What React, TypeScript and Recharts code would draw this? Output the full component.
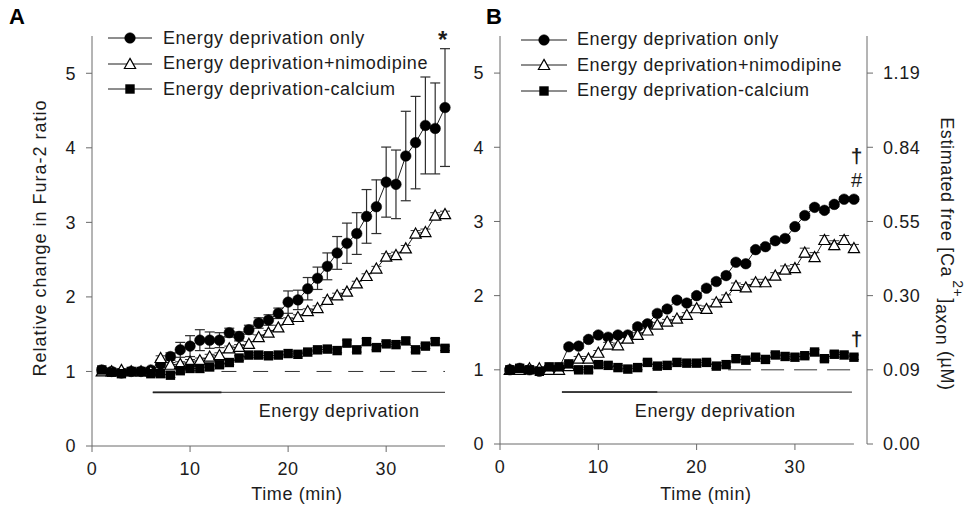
import React from 'react';
import {
  ComposedChart,
  Line,
  XAxis,
  YAxis,
  ErrorBar,
  ReferenceLine,
  ReferenceDot,
  Legend,
} from 'recharts';

const FONT = '"Liberation Sans", Arial, Helvetica, sans-serif';
const INK = '#1c1c1c';
const AXIS = '#6a6a6a';

// ---------- data ----------
const time = [
  1, 2, 3, 4, 5, 6, 7, 8, 9, 10, 11, 12, 13, 14, 15, 16, 17, 18,
  19, 20, 21, 22, 23, 24, 25, 26, 27, 28, 29, 30, 31, 32, 33, 34, 35, 36,
];

const seriesNames = [
  'Energy deprivation only',
  'Energy deprivation+nimodipine',
  'Energy deprivation-calcium',
];

// Panel A (relative change in Fura-2 ratio)
const aOnly = [
  1.02, 1.0, 0.98, 1.0, 1.0, 1.02, 1.1, 1.2, 1.29, 1.34, 1.42, 1.42, 1.42, 1.52, 1.47, 1.56, 1.65, 1.69,
  1.78, 1.93, 1.96, 2.11, 2.25, 2.41, 2.59, 2.72, 2.85, 3.08, 3.21, 3.54, 3.51, 3.89, 4.07, 4.3, 4.26, 4.54,
];
const aOnlyErr = [
  0.03, 0.03, 0.03, 0.03, 0.03, 0.03, 0.05, 0.05, 0.1, 0.14, 0.14, 0.11, 0.1, 0.06, 0.06, 0.06, 0.07, 0.07,
  0.07, 0.15, 0.13, 0.15, 0.15, 0.18, 0.22, 0.27, 0.28, 0.36, 0.36, 0.47, 0.46, 0.6, 0.62, 0.65, 0.61, 0.79,
];
const aNimo = [
  1.0, 1.0, 1.02, 1.0, 1.0, 1.0, 1.18, 1.09, 1.1, 1.13, 1.15, 1.2, 1.22, 1.31, 1.33, 1.37, 1.46, 1.52,
  1.59, 1.69, 1.73, 1.81, 1.85, 1.96, 2.02, 2.07, 2.18, 2.28, 2.38, 2.54, 2.56, 2.65, 2.85, 2.87, 3.09, 3.11,
];
const aNimoErr = [
  0.02, 0.02, 0.02, 0.02, 0.02, 0.02, 0.03, 0.03, 0.03, 0.03, 0.03, 0.03, 0.03, 0.03, 0.03, 0.03, 0.03, 0.03,
  0.03, 0.03, 0.03, 0.03, 0.03, 0.03, 0.03, 0.03, 0.03, 0.03, 0.03, 0.04, 0.04, 0.04, 0.04, 0.04, 0.04, 0.04,
];
const aCalc = [
  1.02, 0.99, 0.97, 1.0, 1.0, 0.97, 0.97, 0.95, 1.01, 1.04, 1.04, 1.06, 1.09, 1.12, 1.18, 1.22, 1.22, 1.21,
  1.22, 1.24, 1.23, 1.26, 1.29, 1.3, 1.28, 1.38, 1.29, 1.4, 1.32, 1.37, 1.36, 1.41, 1.29, 1.34, 1.4, 1.31,
];
const aCalcErr = [
  0.03, 0.03, 0.03, 0.03, 0.03, 0.03, 0.03, 0.03, 0.03, 0.03, 0.03, 0.03, 0.03, 0.03, 0.03, 0.03, 0.03, 0.03,
  0.03, 0.03, 0.03, 0.03, 0.03, 0.03, 0.03, 0.04, 0.03, 0.04, 0.03, 0.03, 0.03, 0.04, 0.03, 0.03, 0.04, 0.03,
];

// Panel B
const bOnly = [
  1.0, 1.02, 1.0, 0.98, 1.02, 1.02, 1.31, 1.32, 1.41, 1.47, 1.44, 1.47, 1.47, 1.58, 1.62, 1.76, 1.82, 1.94,
  1.9, 2.0, 2.1, 2.19, 2.27, 2.45, 2.43, 2.62, 2.66, 2.74, 2.77, 2.93, 3.08, 3.19, 3.15, 3.23, 3.3, 3.3,
];
const bOnlyErr = [
  0.02, 0.02, 0.02, 0.02, 0.02, 0.02, 0.03, 0.03, 0.03, 0.03, 0.03, 0.03, 0.03, 0.03, 0.03, 0.03, 0.03, 0.03,
  0.03, 0.03, 0.03, 0.03, 0.03, 0.03, 0.03, 0.03, 0.03, 0.03, 0.03, 0.03, 0.03, 0.03, 0.03, 0.03, 0.03, 0.03,
];
const bNimo = [
  1.0, 1.0, 1.02, 1.02, 1.0, 1.0, 1.05, 1.15, 1.15, 1.23, 1.34, 1.33, 1.42, 1.47, 1.53, 1.61, 1.65, 1.69,
  1.74, 1.83, 1.82, 1.91, 1.97, 2.13, 2.11, 2.18, 2.18, 2.27, 2.35, 2.37, 2.58, 2.52, 2.75, 2.68, 2.75, 2.64,
];
const bNimoErr = [
  0.02, 0.02, 0.02, 0.02, 0.02, 0.02, 0.03, 0.03, 0.03, 0.03, 0.03, 0.03, 0.03, 0.03, 0.03, 0.03, 0.03, 0.03,
  0.03, 0.04, 0.04, 0.04, 0.04, 0.04, 0.04, 0.04, 0.04, 0.04, 0.05, 0.05, 0.06, 0.06, 0.06, 0.06, 0.06, 0.05,
];
const bCalc = [
  1.0, 1.02, 1.0, 0.98, 1.04, 1.04, 1.08, 1.0, 1.0, 1.07, 1.06, 1.03, 1.01, 1.03, 1.1, 1.05, 1.06, 1.1,
  1.09, 1.09, 1.1, 1.05, 1.07, 1.15, 1.13, 1.17, 1.14, 1.2, 1.18, 1.17, 1.19, 1.24, 1.15, 1.21, 1.2, 1.17,
];
const bCalcErr = [
  0.02, 0.02, 0.02, 0.02, 0.02, 0.02, 0.03, 0.03, 0.03, 0.03, 0.03, 0.03, 0.03, 0.03, 0.03, 0.03, 0.03, 0.03,
  0.03, 0.03, 0.03, 0.03, 0.03, 0.03, 0.03, 0.03, 0.03, 0.03, 0.03, 0.03, 0.03, 0.03, 0.03, 0.03, 0.03, 0.03,
];

const leftTicks = [0, 1, 2, 3, 4, 5];
const xTicks = [0, 10, 20, 30];
const rightTickLabels = ['0.00', '0.09', '0.30', '0.55', '0.84', '1.19'];

// annotation positions in data units
const depA = { y: 0.72, start: 6.2, strongEnd: 13.2, end: 36, textX: 25.2, textY: 0.466 };
const depB = { y: 0.7, start: 6.3, strongEnd: 16, end: 35.8, textX: 21.9, textY: 0.445 };
const baseA = { y: 1, start: 13.2, end: 36 };
const baseB = { y: 1, start: 23.2, end: 36 };

const rowsA = time.map((t, i) => ({
  t,
  only: aOnly[i], onlyErr: aOnlyErr[i],
  nimo: aNimo[i], nimoErr: aNimoErr[i],
  calc: aCalc[i], calcErr: aCalcErr[i],
}));
const rowsB = time.map((t, i) => ({
  t,
  only: bOnly[i], onlyErr: bOnlyErr[i],
  nimo: bNimo[i], nimoErr: bNimoErr[i],
  calc: bCalc[i], calcErr: bCalcErr[i],
}));

// ---------- markers ----------
const Circle = (cx: number, cy: number, key?: string) => (
  <circle key={key} cx={cx} cy={cy} r={5.3} fill="#000" stroke="#000" strokeWidth={0.5} />
);
const Tri = (cx: number, cy: number, key?: string) => {
  const s = 5.6;
  return (
    <path
      key={key}
      d={`M${cx},${cy - s}L${cx + s},${cy + s * 0.8}L${cx - s},${cy + s * 0.8}Z`}
      fill="#fff"
      stroke="#000"
      strokeWidth={1.2}
    />
  );
};
const Sq = (cx: number, cy: number, key?: string) => (
  <rect key={key} x={cx - 4.7} y={cy - 4.7} width={9.4} height={9.4} fill="#000" />
);
const markers = [Circle, Tri, Sq];

const dotFn = (i: number, tag: string) => (p: any) => {
  if (p.cx == null || p.cy == null) return <g key={`${tag}-${p.index}`} />;
  return markers[i](p.cx, p.cy, `${tag}-${p.index}`);
};

const LegendBlock = ({ iconW, gap }: { iconW: number; gap: number }) => (
  <div style={{ fontFamily: FONT, fontSize: 18, letterSpacing: '0.6px', color: INK }}>
    {seriesNames.map((name, i) => (
      <div key={name} style={{ display: 'flex', alignItems: 'center', height: 25.4, whiteSpace: 'nowrap' }}>
        <svg width={iconW} height={16} style={{ marginRight: gap, overflow: 'visible' }}>
          <line x1={0} y1={8} x2={iconW} y2={8} stroke={INK} strokeWidth={1} />
          {markers[i](iconW / 2, 8)}
        </svg>
        <span>{name}</span>
      </div>
    ))}
  </div>
);

const tickStyle = { fill: INK, fontSize: 18 };

const annot = (value: string, size: number, weight: number | string = 'normal') => ({
  content: (p: any) => {
    const vb = p.viewBox || {};
    const cx = (vb.x || 0) + (vb.width || 0) / 2;
    const cy = (vb.y || 0) + (vb.height || 0) / 2;
    return (
      <text x={cx} y={cy} textAnchor="middle" dominantBaseline="central" fill={INK} fontSize={size} fontWeight={weight}>
        {value}
      </text>
    );
  },
});

const series = (tag: string, errColor: string, axisId: string | number) => [
  <Line key={`${tag}1`} yAxisId={axisId} type="linear" dataKey="only" stroke={INK} strokeWidth={1} dot={dotFn(0, `${tag}c`)} isAnimationActive={false} legendType="none">
    <ErrorBar dataKey="onlyErr" width={5} stroke={errColor} strokeWidth={1.2} direction="y" />
  </Line>,
  <Line key={`${tag}2`} yAxisId={axisId} type="linear" dataKey="nimo" stroke={INK} strokeWidth={1} dot={dotFn(1, `${tag}t`)} isAnimationActive={false} legendType="none">
    <ErrorBar dataKey="nimoErr" width={5} stroke="#333" strokeWidth={1} direction="y" />
  </Line>,
  <Line key={`${tag}3`} yAxisId={axisId} type="linear" dataKey="calc" stroke={INK} strokeWidth={1} dot={dotFn(2, `${tag}s`)} isAnimationActive={false} legendType="none">
    <ErrorBar dataKey="calcErr" width={5} stroke="#333" strokeWidth={1} direction="y" />
  </Line>,
];

export default function App() {
  return (
    <div
      style={{
        position: 'absolute',
        left: 0,
        top: 0,
        width: 968,
        height: 512,
        background: '#fff',
        fontFamily: FONT,
        letterSpacing: '0.6px',
        overflow: 'hidden',
      }}
    >
      {/* Panel A */}
      <div style={{ position: 'absolute', left: 0, top: 0 }}>
        <ComposedChart width={480} height={512} data={rowsA} margin={{ top: 36, right: 35, bottom: 36, left: 62 }}>
          <XAxis
            dataKey="t"
            type="number"
            domain={[0, 36]}
            ticks={xTicks}
            tickSize={6}
            tickMargin={10}
            stroke={AXIS}
            tick={tickStyle}
            height={30}
            label={{
              content: (p: any) => {
                const vb = p.viewBox;
                return (
                  <text x={vb.x + 205} y={vb.y + 54} textAnchor="middle" fill={INK} fontSize={18}>
                    Time (min)
                  </text>
                );
              },
            }}
          />
          <YAxis
            yAxisId={0}
            type="number"
            domain={[0, 5.5]}
            ticks={leftTicks}
            tickSize={6}
            tickMargin={10}
            stroke={AXIS}
            tick={tickStyle}
            width={30}
            label={{
              content: (p: any) => {
                const vb = p.viewBox;
                const x = vb.x - 16;
                const y = vb.y + vb.height / 2 - 3;
                return (
                  <text x={x} y={y} transform={`rotate(-90 ${x} ${y})`} textAnchor="middle" fill={INK} fontSize={18} style={{ letterSpacing: '1px' }}>
                    Relative change in Fura-2 ratio
                  </text>
                );
              },
            }}
          />
          <ReferenceLine segment={[{ x: depA.start, y: depA.y }, { x: depA.end, y: depA.y }]} stroke="#555" strokeWidth={1.2} />
          <ReferenceLine segment={[{ x: depA.start, y: depA.y }, { x: depA.strongEnd, y: depA.y }]} stroke="#222" strokeWidth={1.6} />
          <ReferenceLine segment={[{ x: baseA.start, y: baseA.y }, { x: baseA.end, y: baseA.y }]} stroke="#333" strokeWidth={1} strokeDasharray="15 16.7" />
          {series('a', '#2e2e2e', 0)}
          <ReferenceDot x={depA.textX} y={depA.textY} r={1} fill="none" stroke="none" label={annot('Energy deprivation', 18)} />
          <ReferenceDot x={35.8} y={5.45} r={1} fill="none" stroke="none" label={annot('*', 24, 'bold')} />
          <Legend
            layout="horizontal"
            verticalAlign="middle"
            align="center"
            wrapperStyle={{ left: 108, top: 25.6, width: 'auto', height: 'auto' }}
            content={() => <LegendBlock iconW={44} gap={11} />}
          />
        </ComposedChart>
      </div>

      {/* Panel B */}
      <div style={{ position: 'absolute', left: 470, top: 0 }}>
        <ComposedChart width={498} height={512} data={rowsB} margin={{ top: 36, right: 31, bottom: 38, left: 0 }}>
          <XAxis
            dataKey="t"
            type="number"
            domain={[0, 37.33]}
            ticks={xTicks}
            tickSize={6}
            tickMargin={10}
            stroke={AXIS}
            axisLine={false}
            tick={tickStyle}
            height={30}
            label={{
              content: (p: any) => {
                const vb = p.viewBox;
                return (
                  <text x={vb.x + 206} y={vb.y + 56} textAnchor="middle" fill={INK} fontSize={18}>
                    Time (min)
                  </text>
                );
              },
            }}
          />
          <YAxis
            yAxisId="left"
            type="number"
            domain={[0, 5.5]}
            ticks={leftTicks}
            tickSize={6}
            tickMargin={10}
            stroke={AXIS}
            tick={tickStyle}
            width={30}
          />
          <YAxis
            yAxisId="right"
            orientation="right"
            type="number"
            domain={[0, 5.5]}
            ticks={leftTicks}
            tickFormatter={(v: number) => rightTickLabels[v] ?? ''}
            tickSize={6}
            tickMargin={10}
            stroke={AXIS}
            tick={tickStyle}
            width={70}
            label={{
              content: (p: any) => {
                const vb = p.viewBox;
                const x = vb.x + 74;
                const y = vb.y + vb.height / 2 + 14;
                return (
                  <text x={x} y={y} transform={`rotate(90 ${x} ${y})`} textAnchor="middle" fill={INK} fontSize={18}>
                    Estimated free [Ca
                    <tspan dx={3} dy={-12} fontSize={14}>2+</tspan>
                    <tspan dx={1} dy={12}>]</tspan>
                    <tspan dy={5}>axon</tspan>
                    <tspan dy={-5}> (µM)</tspan>
                  </text>
                );
              },
            }}
          />
          {/* invisible series that binds the right-hand axis to the same ratio scale */}
          <Line yAxisId="right" dataKey="only" stroke="none" dot={false} activeDot={false} isAnimationActive={false} legendType="none" />
          <ReferenceLine yAxisId="left" segment={[{ x: 0, y: 0 }, { x: 36, y: 0 }]} stroke={AXIS} strokeWidth={1} />
          <ReferenceLine yAxisId="left" segment={[{ x: depB.start, y: depB.y }, { x: depB.end, y: depB.y }]} stroke="#555" strokeWidth={1.2} />
          <ReferenceLine yAxisId="left" segment={[{ x: depB.start, y: depB.y }, { x: depB.strongEnd, y: depB.y }]} stroke="#222" strokeWidth={1.6} />
          <ReferenceLine yAxisId="left" segment={[{ x: baseB.start, y: baseB.y }, { x: baseB.end, y: baseB.y }]} stroke="#333" strokeWidth={1} strokeDasharray="23 10" />
          {series('b', '#333', 'left')}
          <ReferenceDot yAxisId="left" x={depB.textX} y={depB.textY} r={1} fill="none" stroke="none" label={annot('Energy deprivation', 18)} />
          <ReferenceDot yAxisId="left" x={36.3} y={3.89} r={1} fill="none" stroke="none" ifOverflow="visible" label={annot('†', 21, 'bold')} />
          <ReferenceDot yAxisId="left" x={36.3} y={3.56} r={1} fill="none" stroke="none" ifOverflow="visible" label={annot('#', 20)} />
          <ReferenceDot yAxisId="left" x={36.3} y={1.42} r={1} fill="none" stroke="none" ifOverflow="visible" label={annot('†', 21, 'bold')} />
          <Legend
            layout="horizontal"
            verticalAlign="middle"
            align="center"
            wrapperStyle={{ left: 51, top: 27.3, width: 'auto', height: 'auto' }}
            content={() => <LegendBlock iconW={46} gap={10} />}
          />
        </ComposedChart>
      </div>

      {/* panel letters */}
      <div style={{ position: 'absolute', left: 9, top: 4, fontSize: 22, fontWeight: 'bold', color: '#000', letterSpacing: 0 }}>A</div>
      <div style={{ position: 'absolute', left: 486, top: 4, fontSize: 22, fontWeight: 'bold', color: '#000', letterSpacing: 0 }}>B</div>
    </div>
  );
}
